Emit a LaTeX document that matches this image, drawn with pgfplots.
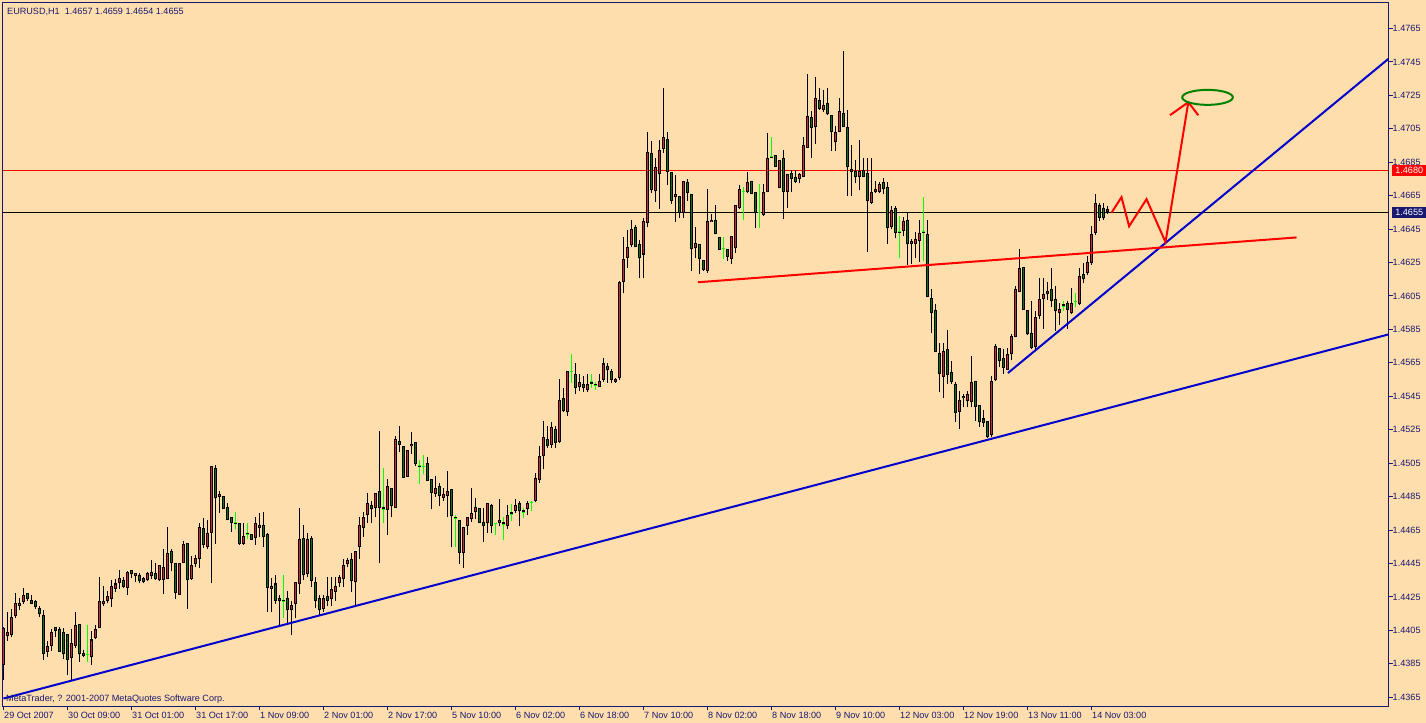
\documentclass[border=0pt]{standalone}
\usepackage{fontspec}
\setmainfont{Liberation Sans}
\usepackage{pgfplots}
\usepackage{pgfplotstable}
\pgfplotsset{compat=1.18}
\definecolor{bgc}{RGB}{255,222,173}
\definecolor{nav}{RGB}{24,24,112}
\definecolor{bullc}{RGB}{205,40,60}
\definecolor{bearc}{RGB}{20,110,20}
\definecolor{dojic}{RGB}{0,255,0}
\definecolor{tlblue}{RGB}{0,0,205}
\definecolor{ellg}{RGB}{0,130,0}
\newcommand{\tickfont}{\fontsize{9.1bp}{10bp}\selectfont}
\pgfplotsset{candle/.style={draw=none, mark=none, forget plot,
  error bars/.cd, y dir=plus, y explicit, error mark=none}}

\pgfplotstableread{
x o h l c
0 1.43840 1.44067 1.43750 1.44061
1 1.44013 1.44157 1.43989 1.44037
2 1.44019 1.44175 1.44007 1.44127
3 1.44133 1.44276 1.44121 1.44216
4 1.44198 1.44246 1.44169 1.44216
5 1.44222 1.44306 1.44210 1.44264
6 1.44276 1.44276 1.44228 1.44240
7 1.44234 1.44264 1.44210 1.44210
8 1.44228 1.44234 1.44180 1.44192
9 1.44186 1.44198 1.44127 1.44145
10 1.44139 1.44169 1.43875 1.43911
11 1.43923 1.43989 1.43893 1.43959
12 1.43959 1.44055 1.43929 1.44037
13 1.44067 1.44067 1.44007 1.44043
14 1.44055 1.44067 1.43923 1.43923
15 1.44037 1.44061 1.43881 1.43911
16 1.44025 1.44025 1.43780 1.43875
17 1.43887 1.44055 1.43750 1.43977
18 1.43959 1.44157 1.43947 1.44079
19 1.44085 1.44085 1.43863 1.43911
20 1.43917 1.43935 1.43893 1.43899
21 1.43905 1.44079 1.43863 1.43905
22 1.43893 1.44043 1.43840 1.43995
23 1.44001 1.44079 1.43995 1.44055
24 1.44061 1.44366 1.44061 1.44228
25 1.44210 1.44318 1.44198 1.44228
26 1.44228 1.44288 1.44216 1.44258
27 1.44240 1.44348 1.44192 1.44318
28 1.44300 1.44354 1.44282 1.44330
29 1.44330 1.44408 1.44300 1.44360
30 1.44348 1.44366 1.44306 1.44312
31 1.44306 1.44402 1.44264 1.44396
32 1.44408 1.44408 1.44360 1.44384
33 1.44372 1.44390 1.44336 1.44390
34 1.44378 1.44390 1.44330 1.44342
35 1.44360 1.44366 1.44330 1.44336
36 1.44348 1.44396 1.44342 1.44390
37 1.44372 1.44468 1.44354 1.44396
38 1.44390 1.44450 1.44348 1.44354
39 1.44348 1.44438 1.44342 1.44438
40 1.44348 1.44539 1.44270 1.44426
41 1.44354 1.44665 1.44354 1.44515
42 1.44527 1.44539 1.44402 1.44450
43 1.44450 1.44450 1.44240 1.44276
44 1.44264 1.44450 1.44264 1.44450
45 1.44450 1.44587 1.44450 1.44569
46 1.44575 1.44575 1.44180 1.44348
47 1.44354 1.44497 1.44348 1.44438
48 1.44444 1.44503 1.44426 1.44485
49 1.44479 1.44689 1.44420 1.44665
50 1.44659 1.44719 1.44545 1.44563
51 1.44551 1.44707 1.44539 1.44635
52 1.44635 1.45030 1.44330 1.45030
53 1.45018 1.45036 1.44569 1.44844
54 1.44850 1.44886 1.44749 1.44868
55 1.44856 1.44856 1.44773 1.44773
56 1.44785 1.44814 1.44707 1.44707
57 1.44725 1.44725 1.44641 1.44689
58 1.44695 1.44755 1.44653 1.44683
59 1.44689 1.44689 1.44563 1.44569
60 1.44569 1.44689 1.44563 1.44617
61 1.44623 1.44689 1.44599 1.44635
62 1.44629 1.44629 1.44593 1.44593
63 1.44605 1.44725 1.44563 1.44689
64 1.44659 1.44749 1.44611 1.44677
65 1.44677 1.44755 1.44551 1.44611
66 1.44629 1.44635 1.44162 1.44306
67 1.44300 1.44360 1.44162 1.44318
68 1.44330 1.44378 1.44210 1.44228
69 1.44246 1.44264 1.44067 1.44228
70 1.44222 1.44378 1.44121 1.44234
71 1.44246 1.44288 1.44079 1.44169
72 1.44169 1.44228 1.44019 1.44204
73 1.44210 1.44336 1.44121 1.44336
74 1.44324 1.44779 1.44270 1.44599
75 1.44605 1.44677 1.44348 1.44378
76 1.44384 1.44635 1.44366 1.44599
77 1.44605 1.44617 1.44312 1.44342
78 1.44336 1.44366 1.44186 1.44228
79 1.44246 1.44264 1.44139 1.44169
80 1.44180 1.44264 1.44157 1.44246
81 1.44258 1.44366 1.44198 1.44228
82 1.44240 1.44366 1.44198 1.44300
83 1.44282 1.44366 1.44228 1.44318
84 1.44330 1.44378 1.44312 1.44366
85 1.44354 1.44479 1.44312 1.44438
86 1.44444 1.44485 1.44426 1.44468
87 1.44479 1.44510 1.44282 1.44342
88 1.44336 1.44527 1.44198 1.44527
89 1.44551 1.44725 1.44479 1.44677
90 1.44659 1.44755 1.44611 1.44725
91 1.44737 1.44874 1.44689 1.44809
92 1.44797 1.44826 1.44689 1.44773
93 1.44779 1.44874 1.44725 1.44874
94 1.44886 1.45245 1.44450 1.44779
95 1.44773 1.45018 1.44689 1.44785
96 1.44767 1.44958 1.44623 1.44916
97 1.44904 1.44904 1.44725 1.44791
98 1.44779 1.45215 1.44779 1.45197
99 1.45185 1.45275 1.45114 1.45161
100 1.45155 1.45155 1.44964 1.44964
101 1.44970 1.45126 1.44970 1.45126
102 1.45150 1.45239 1.45102 1.45167
103 1.45179 1.45179 1.45030 1.45042
104 1.45036 1.45066 1.44928 1.45024
105 1.45030 1.45096 1.44982 1.45030
106 1.45048 1.45084 1.44946 1.44946
107 1.44958 1.44958 1.44773 1.44874
108 1.44868 1.44976 1.44850 1.44904
109 1.44916 1.44934 1.44791 1.44856
110 1.44844 1.44904 1.44826 1.44868
111 1.44856 1.45000 1.44725 1.44886
112 1.44898 1.44898 1.44551 1.44731
113 1.44719 1.44737 1.44551 1.44725
114 1.44707 1.44707 1.44444 1.44515
115 1.44510 1.44665 1.44420 1.44665
116 1.44671 1.44725 1.44623 1.44725
117 1.44713 1.44904 1.44695 1.44749
118 1.44755 1.44844 1.44713 1.44785
119 1.44779 1.44779 1.44689 1.44689
120 1.44695 1.44779 1.44581 1.44671
121 1.44689 1.44814 1.44635 1.44809
122 1.44797 1.44803 1.44635 1.44671
123 1.44689 1.44689 1.44623 1.44689
124 1.44689 1.44838 1.44671 1.44707
125 1.44683 1.44725 1.44593 1.44695
126 1.44671 1.44797 1.44653 1.44737
127 1.44743 1.44803 1.44701 1.44755
128 1.44761 1.44838 1.44749 1.44797
129 1.44809 1.44821 1.44671 1.44761
130 1.44755 1.44779 1.44719 1.44767
131 1.44773 1.44821 1.44737 1.44809
132 1.44815 1.44826 1.44761 1.44815
133 1.44826 1.44988 1.44815 1.44964
134 1.44952 1.45150 1.44934 1.45090
135 1.45090 1.45305 1.45012 1.45209
136 1.45197 1.45275 1.45143 1.45150
137 1.45161 1.45299 1.45143 1.45269
138 1.45257 1.45275 1.45143 1.45173
139 1.45179 1.45556 1.45173 1.45425
140 1.45437 1.45497 1.45353 1.45359
141 1.45353 1.45604 1.45329 1.45604
142 1.45598 1.45700 1.45532 1.45598
143 1.45586 1.45646 1.45461 1.45502
144 1.45508 1.45586 1.45484 1.45538
145 1.45526 1.45574 1.45473 1.45502
146 1.45490 1.45586 1.45473 1.45526
147 1.45538 1.45586 1.45502 1.45526
148 1.45514 1.45538 1.45490 1.45526
149 1.45508 1.45586 1.45508 1.45544
150 1.45550 1.45676 1.45538 1.45646
151 1.45634 1.45646 1.45532 1.45610
152 1.45604 1.45616 1.45532 1.45550
153 1.45538 1.45562 1.45532 1.45556
154 1.45562 1.46142 1.45550 1.46131
155 1.46131 1.46400 1.46065 1.46274
156 1.46280 1.46442 1.46220 1.46340
157 1.46352 1.46502 1.46340 1.46448
158 1.46460 1.46472 1.46340 1.46340
159 1.46358 1.46382 1.46155 1.46280
160 1.46298 1.46519 1.46155 1.46496
161 1.46484 1.47028 1.46460 1.46914
162 1.46908 1.46974 1.46663 1.46681
163 1.46675 1.46878 1.46615 1.46819
164 1.46777 1.46980 1.46573 1.46926
165 1.46932 1.47297 1.46908 1.46998
166 1.46986 1.47028 1.46711 1.46789
167 1.46789 1.46789 1.46603 1.46621
168 1.46639 1.46771 1.46490 1.46657
169 1.46645 1.46645 1.46519 1.46549
170 1.46549 1.46735 1.46519 1.46735
171 1.46729 1.46747 1.46621 1.46663
172 1.46657 1.46657 1.46202 1.46328
173 1.46334 1.46460 1.46280 1.46364
174 1.46358 1.46358 1.46184 1.46274
175 1.46268 1.46268 1.46202 1.46208
176 1.46202 1.46687 1.46190 1.46496
177 1.46490 1.46543 1.46490 1.46507
178 1.46507 1.46597 1.46418 1.46418
179 1.46400 1.46400 1.46322 1.46322
180 1.46334 1.46400 1.46274 1.46334
181 1.46328 1.46328 1.46262 1.46286
182 1.46274 1.46406 1.46244 1.46406
183 1.46334 1.46597 1.46304 1.46597
184 1.46579 1.46711 1.46573 1.46687
185 1.46675 1.46699 1.46502 1.46675
186 1.46669 1.46789 1.46663 1.46729
187 1.46735 1.46735 1.46657 1.46657
188 1.46669 1.46669 1.46454 1.46549
189 1.46549 1.46717 1.46454 1.46549
190 1.46537 1.46717 1.46531 1.46669
191 1.46669 1.47022 1.46669 1.46878
192 1.46884 1.46998 1.46878 1.46878
193 1.46896 1.46896 1.46819 1.46819
194 1.46693 1.46866 1.46693 1.46866
195 1.46878 1.46926 1.46513 1.46669
196 1.46669 1.46777 1.46579 1.46777
197 1.46783 1.46801 1.46669 1.46747
198 1.46759 1.46801 1.46723 1.46729
199 1.46747 1.46783 1.46723 1.46777
200 1.46759 1.46998 1.46759 1.46956
201 1.46938 1.47375 1.46938 1.47124
202 1.47118 1.47159 1.46878 1.47052
203 1.47058 1.47357 1.46962 1.47237
204 1.47225 1.47297 1.47165 1.47171
205 1.47165 1.47285 1.47153 1.47195
206 1.47207 1.47297 1.47130 1.47136
207 1.47130 1.47130 1.46920 1.47028
208 1.46968 1.47064 1.46920 1.47028
209 1.47028 1.47237 1.47028 1.47159
210 1.47147 1.47518 1.47058 1.47058
211 1.47058 1.47165 1.46645 1.46819
212 1.46807 1.46956 1.46645 1.46789
213 1.46795 1.46866 1.46723 1.46759
214 1.46759 1.46980 1.46681 1.46795
215 1.46801 1.46878 1.46759 1.46759
216 1.46783 1.46878 1.46310 1.46621
217 1.46609 1.46878 1.46603 1.46669
218 1.46669 1.46735 1.46663 1.46687
219 1.46669 1.46729 1.46663 1.46717
220 1.46729 1.46753 1.46657 1.46687
221 1.46699 1.46729 1.46358 1.46454
222 1.46460 1.46591 1.46448 1.46567
223 1.46579 1.46591 1.46394 1.46429
224 1.46435 1.46531 1.46280 1.46429
225 1.46441 1.46525 1.46406 1.46496
226 1.46507 1.46555 1.46238 1.46358
227 1.46358 1.46388 1.46244 1.46376
228 1.46358 1.46435 1.46280 1.46388
229 1.46376 1.46507 1.46256 1.46429
230 1.46435 1.46639 1.46262 1.46429
231 1.46418 1.46507 1.46041 1.46041
232 1.46035 1.46089 1.45826 1.45951
233 1.45969 1.45999 1.45712 1.45712
234 1.45706 1.45766 1.45473 1.45586
235 1.45568 1.45766 1.45442 1.45718
236 1.45730 1.45849 1.45526 1.45580
237 1.45598 1.45658 1.45526 1.45538
238 1.45526 1.45538 1.45299 1.45347
239 1.45353 1.45484 1.45257 1.45425
240 1.45454 1.45466 1.45383 1.45437
241 1.45419 1.45484 1.45383 1.45466
242 1.45413 1.45688 1.45383 1.45538
243 1.45544 1.45544 1.45305 1.45383
244 1.45395 1.45395 1.45269 1.45299
245 1.45317 1.45365 1.45269 1.45293
246 1.45305 1.45305 1.45203 1.45209
247 1.45221 1.45574 1.45209 1.45544
248 1.45550 1.45760 1.45544 1.45748
249 1.45736 1.45736 1.45628 1.45658
250 1.45676 1.45730 1.45586 1.45622
251 1.45610 1.45736 1.45610 1.45700
252 1.45700 1.45820 1.45664 1.45808
253 1.45802 1.46107 1.45802 1.46089
254 1.46071 1.46328 1.46071 1.46220
255 1.46226 1.46226 1.45969 1.45969
256 1.45969 1.45969 1.45814 1.45820
257 1.45826 1.46017 1.45730 1.45736
258 1.45742 1.45963 1.45730 1.45927
259 1.45933 1.46155 1.45915 1.46029
260 1.46029 1.46155 1.45855 1.46059
261 1.46059 1.46131 1.46023 1.46077
262 1.46089 1.46220 1.45981 1.46017
263 1.46029 1.46107 1.45843 1.45963
264 1.45951 1.46005 1.45879 1.45975
265 1.45987 1.46017 1.45963 1.45999
266 1.46005 1.46017 1.45855 1.45969
267 1.45951 1.46095 1.45945 1.46005
268 1.46017 1.46065 1.45981 1.46017
269 1.45999 1.46220 1.45993 1.46167
270 1.46184 1.46250 1.46125 1.46149
271 1.46190 1.46292 1.46178 1.46256
272 1.46250 1.46466 1.46238 1.46418
273 1.46429 1.46657 1.46412 1.46609
274 1.46597 1.46609 1.46501 1.46519
275 1.46579 1.46609 1.46507 1.46519
276 1.4657 1.4659 1.4654 1.4655
}\ohlc

\begin{document}
\begin{tikzpicture}
\fill[bgc] (0,0) rectangle (1426bp,723bp);
\begin{axis}[
  at={(2.5bp,16.5bp)}, anchor=south west, scale only axis,
  width=1386bp, height=704bp,
  xmin=-0.25, xmax=346.25, ymin=1.435942, ymax=1.478055,
  axis line style={draw=nav, line width=1bp},
  tick style={draw=nav, line width=1bp},
  tick align=outside, major tick length=4bp,
  xtick pos=bottom, ytick pos=right, yticklabel pos=right,
  minor tick num=0,
  xtick={0,16,32,48,64,80,96,112,128,144,160,176,192,208,224,240,256,272},
  xticklabels={29 Oct 2007,30 Oct 09:00,31 Oct 01:00,31 Oct 17:00,1 Nov 09:00,2 Nov 01:00,2 Nov 17:00,5 Nov 10:00,6 Nov 02:00,6 Nov 18:00,7 Nov 10:00,8 Nov 02:00,8 Nov 18:00,9 Nov 10:00,12 Nov 03:00,12 Nov 19:00,13 Nov 11:00,14 Nov 03:00},
  ytick={1.4365,1.4385,1.4405,1.4425,1.4445,1.4465,1.4485,1.4505,1.4525,1.4545,1.4565,1.4585,1.4605,1.4625,1.4645,1.4665,1.4685,1.4705,1.4725,1.4745,1.4765},
  scaled y ticks=false,
  xticklabel style={font=\tickfont, text=nav, anchor=north west, inner sep=0pt, xshift=0.5bp, yshift=-1.5bp},
  yticklabel style={font=\tickfont, text=nav, anchor=west, inner sep=0pt,
     /pgf/number format/fixed, /pgf/number format/fixed zerofill,
     /pgf/number format/precision=4, /pgf/number format/assume math mode=true},
]
% horizontal price lines
\addplot[red, line width=1bp] coordinates {(-0.25,1.4680) (346.25,1.4680)};
\addplot[black, line width=1bp] coordinates {(-0.25,1.4655) (346.25,1.4655)};
% wicks
\addplot[candle, error bar style={draw=black, line width=1bp}]
  table[x=x, y=l, y error plus expr={\thisrow{h}-\thisrow{l}}] {\ohlc};
% doji wicks and ticks
\addplot[candle, error bar style={draw=dojic, line width=1bp}]
  table[x=x, y expr={\thisrow{l}+0.05*(\thisrow{c}!=\thisrow{o})}, y error plus expr={\thisrow{h}-\thisrow{l}}] {\ohlc};
\addplot[only marks, mark=-, mark size=1.5bp, mark options={draw=dojic, line width=1bp}]
  table[x=x, y expr={\thisrow{o}+0.05*(\thisrow{c}!=\thisrow{o})}] {\ohlc};
% bodies
\addplot[candle, error bar style={draw=black, line width=3bp}]
  table[x=x, y expr={min(\thisrow{o},\thisrow{c})}, y error plus expr={abs(\thisrow{c}-\thisrow{o})}] {\ohlc};
\addplot[candle, error bar style={draw=bullc, line width=1bp}]
  table[x=x, y expr={\thisrow{o}+0.00006+0.05*(\thisrow{c}<=\thisrow{o})}, y error plus expr={max(\thisrow{c}-\thisrow{o}-0.00012,0)}] {\ohlc};
\addplot[candle, error bar style={draw=bearc, line width=1bp}]
  table[x=x, y expr={\thisrow{c}+0.00006+0.05*(\thisrow{c}>=\thisrow{o})}, y error plus expr={max(\thisrow{o}-\thisrow{c}-0.00012,0)}] {\ohlc};
% trend lines
\addplot[tlblue, line width=2bp] coordinates {(0,1.43642) (346.25,1.45820)};
\addplot[tlblue, line width=2bp] coordinates {(251.1,1.45589) (346.25,1.47469)};
\addplot[red, line width=2bp] coordinates {(173.6,1.46132) (323.25,1.46400)};
% projected path
\addplot[red, line width=2bp] coordinates {(277,1.46548) (279.5,1.46641) (281.4,1.46467) (285.75,1.46629) (290.5,1.46372) (296.2,1.47209)};
\addplot[red, line width=2bp] coordinates {(291.6,1.47131) (296.2,1.47209) (298.7,1.47131)};
\draw[ellg, line width=2bp] (axis cs:301,1.47238) ellipse [x radius=25.3bp, y radius=7.5bp];
\coordinate (pr1) at (axis cs:346.25,1.4680);
\coordinate (pr2) at (axis cs:346.25,1.4655);
\end{axis}
\node[fill=red, text=white, font=\tickfont, inner sep=0pt, minimum width=35bp, minimum height=10.5bp, anchor=west] at ([xshift=3bp]pr1) {1.4680};
\node[fill=nav, text=white, font=\tickfont, inner sep=0pt, minimum width=35bp, minimum height=10.5bp, anchor=west] at ([xshift=3bp]pr2) {1.4655};
\node[anchor=base west, inner sep=0pt, text=nav, font=\tickfont] at (7bp,708.5bp) {EURUSD,H1~~1.4657 1.4659 1.4654 1.4655};
\node[anchor=base west, inner sep=0pt, text=nav, font=\tickfont] at (6bp,22bp) {MetaTrader, ? 2001-2007 MetaQuotes Software Corp.};
\pgfresetboundingbox
\path[use as bounding box] (0,0) rectangle (1426bp,723bp);
\end{tikzpicture}
\end{document}
